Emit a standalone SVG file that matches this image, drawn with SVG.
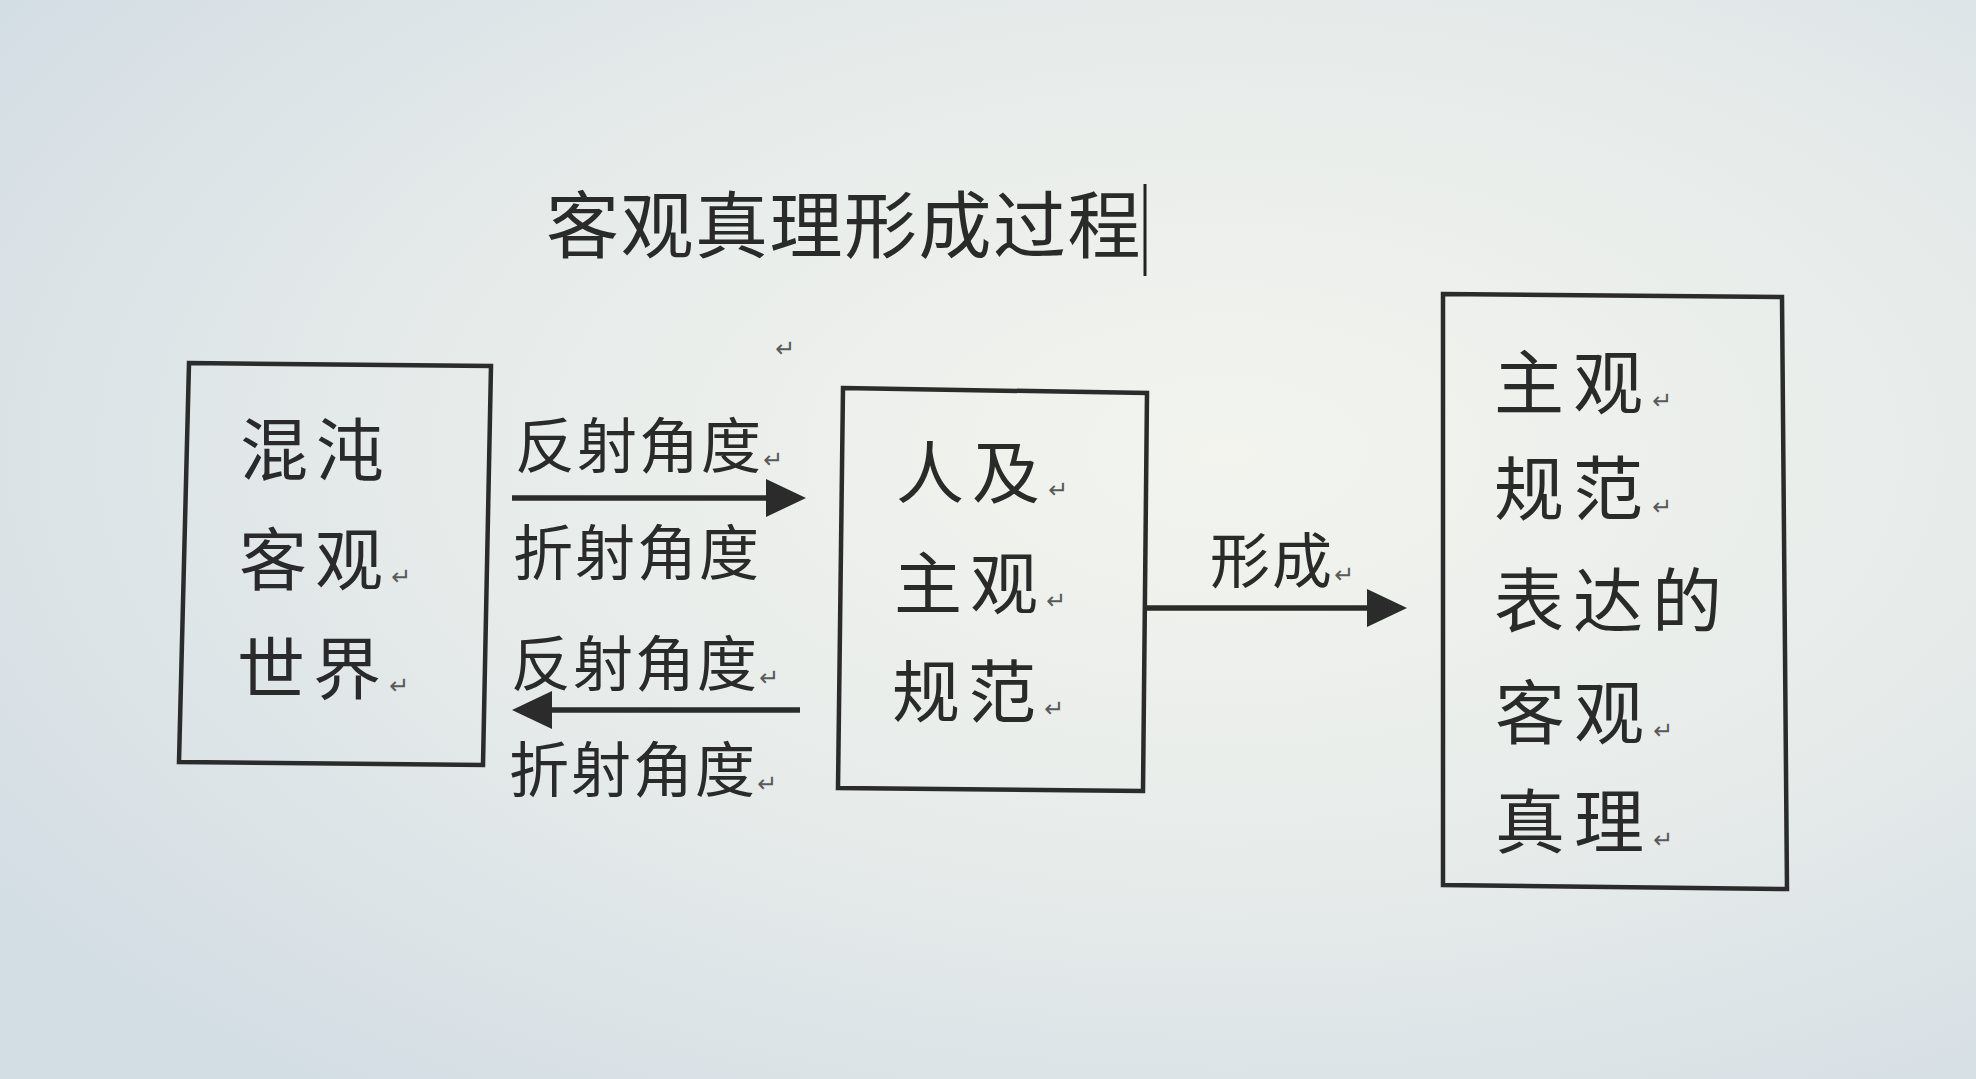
<svg xmlns="http://www.w3.org/2000/svg" width="1976" height="1079" viewBox="0 0 1976 1079">
<defs>
<radialGradient id="bg" cx="0.62" cy="0.42" r="0.75">
<stop offset="0" stop-color="#f3f4ee"/>
<stop offset="0.55" stop-color="#e6ebea"/>
<stop offset="1" stop-color="#d3dde4"/>
</radialGradient>
<marker id="ah" markerUnits="userSpaceOnUse" markerWidth="40" markerHeight="40" refX="0" refY="20" orient="auto">
<path d="M0,1 L40,20 L0,39 Z" fill="#2b2b2b"/>
</marker>
<style>
.box{fill:none;stroke:#2b2b2b;stroke-width:4.5;stroke-linejoin:miter}
.t{font-family:"Noto Sans CJK SC","Noto Sans CJK JP",sans-serif;fill:#2a2a2a}
.big{font-size:68px;letter-spacing:8px}
.big3{font-size:70px;letter-spacing:9px}
.lab{font-size:60px;letter-spacing:2px}
.title{font-size:73px;letter-spacing:1.5px}
.pm{font-family:"DejaVu Sans",sans-serif;font-size:24px;fill:#5a5a5a;letter-spacing:0}
.conn{stroke:#2b2b2b;stroke-width:5.5;fill:none}
</style>
</defs>
<rect x="0" y="0" width="1976" height="1079" fill="url(#bg)"/>

<g id="title">
<text class="t title" x="546" y="252">客观真理形成过程</text>
<line x1="1145" y1="184" x2="1145" y2="276" stroke="#222" stroke-width="3"/>
<text class="pm" x="775" y="357">↵</text>
</g>

<g id="node-chaos">
<polygon class="box" points="189,363 491,366 483,765 179,762"/>
<text class="t big" x="240" y="475">混沌</text>
<text class="t big" x="239" y="585">客观<tspan class="pm">↵</tspan></text>
<text class="t big" x="237" y="694">世界<tspan class="pm">↵</tspan></text>
</g>

<g id="node-human">
<polygon class="box" points="843,388 1147,393 1143,791 838,788"/>
<text class="t big" x="896" y="498">人及<tspan class="pm">↵</tspan></text>
<text class="t big" x="894" y="609">主观<tspan class="pm">↵</tspan></text>
<text class="t big" x="892" y="717">规范<tspan class="pm">↵</tspan></text>
</g>

<g id="node-truth">
<polygon class="box" points="1443,294 1782,297 1787,889 1443,885"/>
<text class="t big3" x="1494" y="409">主观<tspan class="pm">↵</tspan></text>
<text class="t big3" x="1494" y="515">规范<tspan class="pm">↵</tspan></text>
<text class="t big3" x="1494" y="627">表达的</text>
<text class="t big3" x="1495" y="739">客观<tspan class="pm">↵</tspan></text>
<text class="t big3" x="1495" y="848">真理<tspan class="pm">↵</tspan></text>
</g>

<g id="connectors">
<line class="conn" x1="512" y1="498" x2="766" y2="498" marker-end="url(#ah)"/>
<line class="conn" x1="800" y1="710" x2="552" y2="710" marker-end="url(#ah)"/>
<line class="conn" x1="1146" y1="608" x2="1367" y2="608" marker-end="url(#ah)"/>
<text class="t lab" x="515" y="468">反射角度<tspan class="pm">↵</tspan></text>
<text class="t lab" x="513" y="575">折射角度</text>
<text class="t lab" x="511" y="686">反射角度<tspan class="pm">↵</tspan></text>
<text class="t lab" x="509" y="792">折射角度<tspan class="pm">↵</tspan></text>
<text class="t lab" x="1210" y="583">形成<tspan class="pm">↵</tspan></text>
</g>
</svg>
